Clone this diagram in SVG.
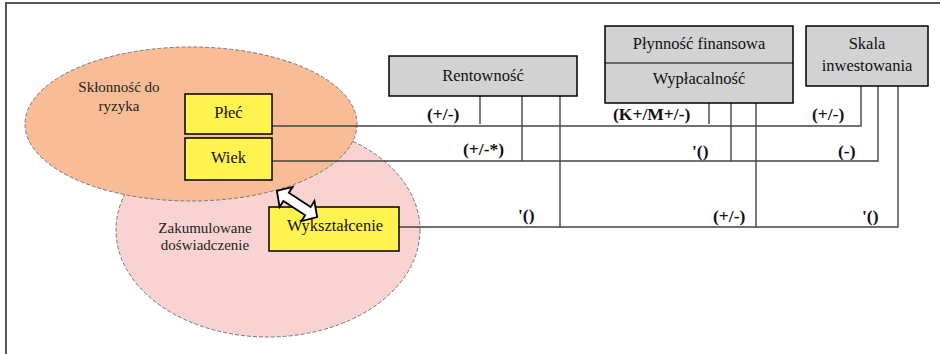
<svg xmlns="http://www.w3.org/2000/svg" width="940" height="354" viewBox="0 0 940 354">
<defs>
<style>
.y{fill:#FFF34F;stroke:#000;stroke-width:1.5}
.g{fill:#D2D2D2;stroke:#000;stroke-width:1.5}
.c{fill:none;stroke:#444;stroke-width:1.4}
.el{stroke:#777;stroke-width:1;stroke-dasharray:4 2}
</style>
</defs>
<rect width="940" height="354" fill="#fff"/>
<path d="M6,354 V3 H940" fill="none" stroke="#555" stroke-width="2"/>
<g id="zakumulowane">
<ellipse class="el" cx="268" cy="230" rx="152" ry="107" fill="#F9D3D2"/>
<g font-family="Liberation Serif" font-size="15" fill="#222" text-anchor="middle">
<text x="205" y="233">Zakumulowane</text>
<text x="205" y="250">doświadczenie</text>
</g>
</g>
<g id="sklonnosc">
<ellipse class="el" cx="191" cy="124" rx="166" ry="77" fill="#F8BD96"/>
<g font-family="Liberation Serif" font-size="15" fill="#222" text-anchor="middle">
<text x="119" y="92">Skłonność do</text>
<text x="119" y="111">ryzyka</text>
</g>
</g>
<g id="connectors">
<path class="c" d="M272,126 H861 V86"/>
<path class="c" d="M272,161 H878 V86"/>
<path class="c" d="M399,227 H898 V86"/>
<path class="c" d="M480,96 V124 M522,96 V161 M560,96 V227"/>
<path class="c" d="M709,103 V124 M731,103 V161 M756,103 V227"/>
</g>
<g id="labels" font-family="Liberation Serif" font-size="17.5" font-weight="bold" fill="#111">
<text x="427" y="120">(+/-)</text>
<text x="463" y="155">(+/-*)</text>
<text x="518" y="221">'()</text>
<text x="613" y="120">(K+/M+/-)</text>
<text x="692" y="157">'()</text>
<text x="713" y="222">(+/-)</text>
<text x="812" y="120">(+/-)</text>
<text x="838" y="157">(-)</text>
<text x="862" y="222">'()</text>
</g>
<g id="plec">
<rect class="y" x="185" y="94" width="87" height="40"/>
<text font-family="Liberation Serif" font-size="16.5" fill="#111" text-anchor="middle" x="228.5" y="118">Płeć</text>
</g>
<g id="wiek">
<rect class="y" x="185" y="138" width="87" height="42"/>
<text font-family="Liberation Serif" font-size="16.5" fill="#111" text-anchor="middle" x="228.5" y="163">Wiek</text>
</g>
<g id="wyksztalcenie">
<rect class="y" x="269" y="207" width="130" height="44"/>
<text font-family="Liberation Serif" font-size="16.5" fill="#111" text-anchor="middle" x="335" y="231">Wykształcenie</text>
</g>
<g id="arrow">
<polygon transform="translate(297,204) rotate(33)" points="-24,0 -13,-12 -13,-5 13,-5 13,-12 24,0 13,12 13,5 -13,5 -13,12" fill="#fff" stroke="#000" stroke-width="1.8" stroke-linejoin="miter"/>
</g>
<g id="rentownosc">
<rect class="g" x="389" y="56" width="188" height="40"/>
<text font-family="Liberation Serif" font-size="16.5" fill="#111" text-anchor="middle" x="483" y="81">Rentowność</text>
</g>
<g id="plynnosc">
<rect class="g" x="605" y="26" width="188" height="77"/>
<line x1="605" y1="63" x2="793" y2="63" stroke="#000" stroke-width="1.2"/>
<text font-family="Liberation Serif" font-size="16.5" fill="#111" text-anchor="middle" x="699" y="49">Płynność finansowa</text>
<text font-family="Liberation Serif" font-size="16.5" fill="#111" text-anchor="middle" x="699" y="84">Wypłacalność</text>
</g>
<g id="skala">
<rect class="g" x="806" y="26" width="122" height="60"/>
<text font-family="Liberation Serif" font-size="16.5" fill="#111" text-anchor="middle" x="867" y="49">Skala</text>
<text font-family="Liberation Serif" font-size="16.5" fill="#111" text-anchor="middle" x="867" y="71">inwestowania</text>
</g>
</svg>
